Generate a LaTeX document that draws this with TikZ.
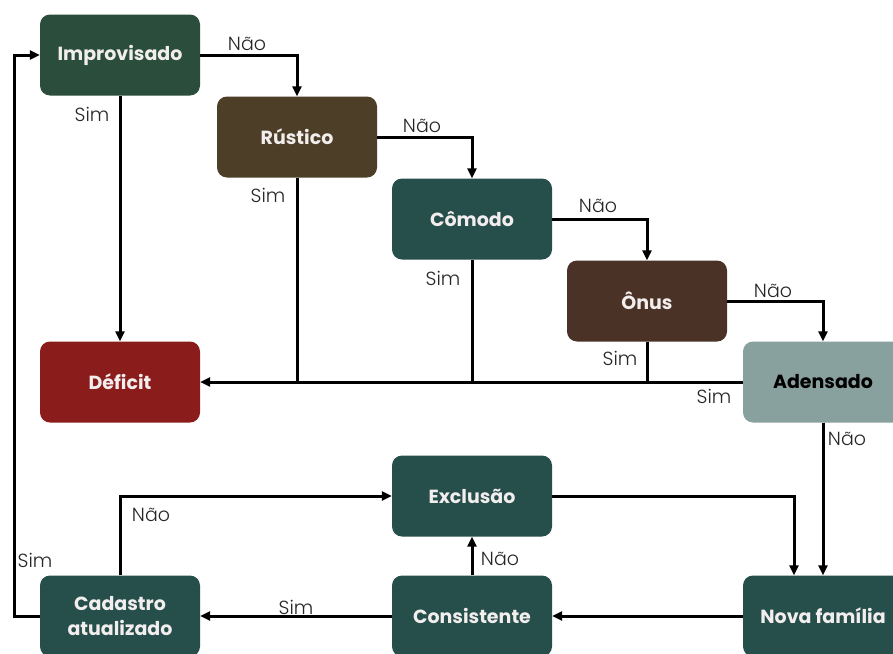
\documentclass[tikz,border=0pt]{standalone}
\usepackage{fontspec}
\setmainfont{Poppins}
\newfontfamily\lightfont{Poppins Light}
\usetikzlibrary{arrows.meta}
\definecolor{cimp}{HTML}{2A4E3B}
\definecolor{crus}{HTML}{4D3E27}
\definecolor{cteal}{HTML}{264E4B}
\definecolor{conus}{HTML}{4B3226}
\definecolor{cdef}{HTML}{8A1C1C}
\definecolor{cade}{HTML}{89A19E}
\definecolor{ctxt}{HTML}{F2EEEE}
\tikzset{
  box/.style={rounded corners=10pt, minimum width=160pt, minimum height=81pt,
    inner sep=0pt, align=center, font=\fontsize{19}{25}\selectfont\bfseries, text=ctxt},
  conn/.style={line width=3pt, draw=black},
  arr/.style={conn, -{Triangle[length=10pt,width=9pt]}},
  lbl/.style={font=\lightfont\fontsize{19}{21}\selectfont, text=black!85, inner sep=0pt}
}
\begin{document}
\begin{tikzpicture}[x=1pt,y=-1pt]
\useasboundingbox[fill=white] (0,0) rectangle (893,653);
% boxes
\node[box, fill=cimp] (imp) at (120,55) {Improvisado};
\node[box, fill=crus] (rus) at (297,137) {Rústico};
\node[box, fill=cteal] (com) at (472,219) {Cômodo};
\node[box, fill=conus] (onu) at (647,301) {Ônus};
\node[box, fill=cade, text=black] (ade) at (823,382) {Adensado};
\node[box, fill=cdef] (def) at (120,382) {Déficit};
\node[box, fill=cteal] (exc) at (472,496) {Exclusão};
\node[box, fill=cteal] (cad) at (120,616) {Cadastro\\atualizado};
\node[box, fill=cteal] (con) at (472,616) {Consistente};
\node[box, fill=cteal] (nov) at (823,616) {Nova família};
% coordinates
\coordinate (lx) at (14,300);
\coordinate (nx) at (794,500);
% Não chain
\draw[arr] (imp.east) -| (rus.north);
\draw[arr] (rus.east) -| (com.north);
\draw[arr] (com.east) -| (onu.north);
\draw[arr] (onu.east) -| (ade.north);
% Sim to deficit
\draw[arr] (imp.south) -- (def.north);
\draw[conn] (rus.south) -- (rus.south |- def.east);
\draw[conn] (com.south) -- (com.south |- def.east);
\draw[conn] (onu.south) -- (onu.south |- def.east);
\draw[arr] (ade.west) -- (def.east);
% lower part
\draw[arr] (ade.south) -- (nov.north);
\draw[arr] (exc.east) -| (exc.east -| nx) -- (nx |- nov.north);
\draw[arr] (nov.west) -- (con.east);
\draw[arr] (con.north) -- (exc.south);
\draw[arr] (con.west) -- (cad.east);
\draw[arr] (cad.north) |- (exc.west);
\draw[arr] (cad.west) -- (cad.west -| lx) -- (imp.west -| lx) -- (imp.west);
% labels
\node[lbl] (l1) at (247,44) {Não};
\node[lbl] (l2) at (422,126) {Não};
\node[lbl] (l3) at (598,206) {Não};
\node[lbl] (l4) at (773,291) {Não};
\node[lbl] (s1) at (92,114) {Sim};
\node[lbl] (s2) at (268,195) {Sim};
\node[lbl] (s3) at (443,278) {Sim};
\node[lbl] (s4) at (620,358) {Sim};
\node[lbl] (s5) at (714,396) {Sim};
\node[lbl] (l5) at (847,439) {Não};
\node[lbl] (l6) at (151,515) {Não};
\node[lbl] (s6) at (35,560) {Sim};
\node[lbl] (l7) at (500,559) {Não};
\node[lbl] (s7) at (296,607) {Sim};
\end{tikzpicture}
\end{document}
